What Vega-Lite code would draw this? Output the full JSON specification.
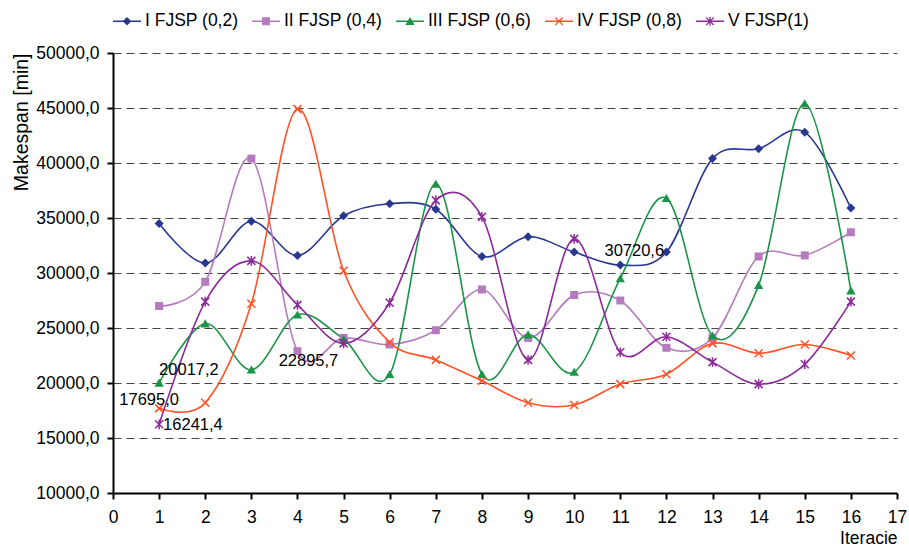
{
  "$schema": "https://vega.github.io/schema/vega-lite/v6.json",
  "width": 784,
  "height": 440,
  "autosize": {"type": "none"},
  "padding": {"left": 113, "top": 53, "right": 12, "bottom": 56},
  "background": "white",
  "config": {
    "font": "Liberation Sans",
    "locale": {"number": {"decimal": ",", "thousands": ".", "grouping": [3], "currency": ["", " Kč"]}},
    "view": {"stroke": null}
  },
  "data": {
    "values": [
      {"iter": 1, "series": "I FJSP (0,2)", "value": 34500},
      {"iter": 2, "series": "I FJSP (0,2)", "value": 30900},
      {"iter": 3, "series": "I FJSP (0,2)", "value": 34700},
      {"iter": 4, "series": "I FJSP (0,2)", "value": 31600},
      {"iter": 5, "series": "I FJSP (0,2)", "value": 35200},
      {"iter": 6, "series": "I FJSP (0,2)", "value": 36300},
      {"iter": 7, "series": "I FJSP (0,2)", "value": 35800},
      {"iter": 8, "series": "I FJSP (0,2)", "value": 31500},
      {"iter": 9, "series": "I FJSP (0,2)", "value": 33300},
      {"iter": 10, "series": "I FJSP (0,2)", "value": 31900},
      {"iter": 11, "series": "I FJSP (0,2)", "value": 30720.6},
      {"iter": 12, "series": "I FJSP (0,2)", "value": 31900},
      {"iter": 13, "series": "I FJSP (0,2)", "value": 40400},
      {"iter": 14, "series": "I FJSP (0,2)", "value": 41300},
      {"iter": 15, "series": "I FJSP (0,2)", "value": 42800},
      {"iter": 16, "series": "I FJSP (0,2)", "value": 35900},
      {"iter": 1, "series": "II FJSP (0,4)", "value": 27000},
      {"iter": 2, "series": "II FJSP (0,4)", "value": 29200},
      {"iter": 3, "series": "II FJSP (0,4)", "value": 40400},
      {"iter": 4, "series": "II FJSP (0,4)", "value": 22895.7},
      {"iter": 5, "series": "II FJSP (0,4)", "value": 24100},
      {"iter": 6, "series": "II FJSP (0,4)", "value": 23500},
      {"iter": 7, "series": "II FJSP (0,4)", "value": 24800},
      {"iter": 8, "series": "II FJSP (0,4)", "value": 28500},
      {"iter": 9, "series": "II FJSP (0,4)", "value": 24100},
      {"iter": 10, "series": "II FJSP (0,4)", "value": 28000},
      {"iter": 11, "series": "II FJSP (0,4)", "value": 27500},
      {"iter": 12, "series": "II FJSP (0,4)", "value": 23200},
      {"iter": 13, "series": "II FJSP (0,4)", "value": 24100},
      {"iter": 14, "series": "II FJSP (0,4)", "value": 31500},
      {"iter": 15, "series": "II FJSP (0,4)", "value": 31600},
      {"iter": 16, "series": "II FJSP (0,4)", "value": 33700},
      {"iter": 1, "series": "III FJSP (0,6)", "value": 20017.2},
      {"iter": 2, "series": "III FJSP (0,6)", "value": 25400},
      {"iter": 3, "series": "III FJSP (0,6)", "value": 21200},
      {"iter": 4, "series": "III FJSP (0,6)", "value": 26200},
      {"iter": 5, "series": "III FJSP (0,6)", "value": 24000},
      {"iter": 6, "series": "III FJSP (0,6)", "value": 20800},
      {"iter": 7, "series": "III FJSP (0,6)", "value": 38100},
      {"iter": 8, "series": "III FJSP (0,6)", "value": 20800},
      {"iter": 9, "series": "III FJSP (0,6)", "value": 24400},
      {"iter": 10, "series": "III FJSP (0,6)", "value": 21000},
      {"iter": 11, "series": "III FJSP (0,6)", "value": 29500},
      {"iter": 12, "series": "III FJSP (0,6)", "value": 36800},
      {"iter": 13, "series": "III FJSP (0,6)", "value": 24300},
      {"iter": 14, "series": "III FJSP (0,6)", "value": 28900},
      {"iter": 15, "series": "III FJSP (0,6)", "value": 45400},
      {"iter": 16, "series": "III FJSP (0,6)", "value": 28400},
      {"iter": 1, "series": "IV FJSP (0,8)", "value": 17695.0},
      {"iter": 2, "series": "IV FJSP (0,8)", "value": 18200},
      {"iter": 3, "series": "IV FJSP (0,8)", "value": 27200},
      {"iter": 4, "series": "IV FJSP (0,8)", "value": 44900},
      {"iter": 5, "series": "IV FJSP (0,8)", "value": 30200},
      {"iter": 6, "series": "IV FJSP (0,8)", "value": 23700},
      {"iter": 7, "series": "IV FJSP (0,8)", "value": 22100},
      {"iter": 8, "series": "IV FJSP (0,8)", "value": 20200},
      {"iter": 9, "series": "IV FJSP (0,8)", "value": 18200},
      {"iter": 10, "series": "IV FJSP (0,8)", "value": 18000},
      {"iter": 11, "series": "IV FJSP (0,8)", "value": 19900},
      {"iter": 12, "series": "IV FJSP (0,8)", "value": 20800},
      {"iter": 13, "series": "IV FJSP (0,8)", "value": 23600},
      {"iter": 14, "series": "IV FJSP (0,8)", "value": 22700},
      {"iter": 15, "series": "IV FJSP (0,8)", "value": 23500},
      {"iter": 16, "series": "IV FJSP (0,8)", "value": 22500},
      {"iter": 1, "series": "V FJSP(1)", "value": 16241.4},
      {"iter": 2, "series": "V FJSP(1)", "value": 27400},
      {"iter": 3, "series": "V FJSP(1)", "value": 31100},
      {"iter": 4, "series": "V FJSP(1)", "value": 27100},
      {"iter": 5, "series": "V FJSP(1)", "value": 23600},
      {"iter": 6, "series": "V FJSP(1)", "value": 27300},
      {"iter": 7, "series": "V FJSP(1)", "value": 36600},
      {"iter": 8, "series": "V FJSP(1)", "value": 35100},
      {"iter": 9, "series": "V FJSP(1)", "value": 22100},
      {"iter": 10, "series": "V FJSP(1)", "value": 33100},
      {"iter": 11, "series": "V FJSP(1)", "value": 22800},
      {"iter": 12, "series": "V FJSP(1)", "value": 24200},
      {"iter": 13, "series": "V FJSP(1)", "value": 21900},
      {"iter": 14, "series": "V FJSP(1)", "value": 19900},
      {"iter": 15, "series": "V FJSP(1)", "value": 21700},
      {"iter": 16, "series": "V FJSP(1)", "value": 27400}
    ]
  },
  "encoding": {
    "x": {
      "field": "iter",
      "type": "quantitative",
      "scale": {"domain": [0, 17], "nice": false, "zero": false},
      "axis": {
        "title": "Iteracie",
        "values": [0, 1, 2, 3, 4, 5, 6, 7, 8, 9, 10, 11, 12, 13, 14, 15, 16, 17],
        "format": "d",
        "grid": false,
        "domainColor": "black",
        "domainWidth": 2,
        "tickColor": "black",
        "tickWidth": 2,
        "tickSize": 6,
        "labelFontSize": 17.5,
        "labelColor": "black",
        "labelPadding": 9,
        "labelFlush": false,
        "labelOverlap": false,
        "titleAnchor": "end",
        "titleFontSize": 17.5,
        "titleFontWeight": "normal",
        "titleColor": "black",
        "titlePadding": 4
      }
    },
    "y": {
      "field": "value",
      "type": "quantitative",
      "scale": {"domain": [10000, 50000], "nice": false, "zero": false},
      "axis": {
        "title": "Makespan [min]",
        "values": [10000, 15000, 20000, 25000, 30000, 35000, 40000, 45000, 50000],
        "format": ".1f",
        "grid": true,
        "gridDash": [8, 5],
        "gridColor": "#444444",
        "gridWidth": 1.2,
        "domainColor": "black",
        "domainWidth": 2,
        "tickColor": "black",
        "tickWidth": 2,
        "tickSize": 6,
        "labelFontSize": 17.5,
        "labelColor": "black",
        "labelPadding": 8,
        "labelFlush": false,
        "titleAnchor": "end",
        "titleFontSize": 19.5,
        "titleFontWeight": "normal",
        "titleColor": "black",
        "titlePadding": 4
      }
    }
  },
  "layer": [
    {
      "mark": {"type": "line", "interpolate": "cardinal", "strokeWidth": 1.6},
      "encoding": {
        "color": {
          "field": "series",
          "type": "nominal",
          "scale": {
            "domain": ["I FJSP (0,2)", "II FJSP (0,4)", "III FJSP (0,6)", "IV FJSP (0,8)", "V FJSP(1)"],
            "range": ["#283891", "#B57BBE", "#1B9448", "#FF5126", "#8C2A9A"]
          },
          "legend": null
        }
      }
    },
    {
      "transform": [{"filter": "datum.series === 'I FJSP (0,2)'"}],
      "mark": {"type": "point", "shape": "M0,-1L1,0L0,1L-1,0Z", "filled": true, "size": 81, "color": "#283891", "opacity": 1}
    },
    {
      "transform": [{"filter": "datum.series === 'II FJSP (0,4)'"}],
      "mark": {"type": "point", "shape": "M-1,-1H1V1H-1Z", "filled": true, "size": 64, "color": "#B57BBE", "opacity": 1}
    },
    {
      "transform": [{"filter": "datum.series === 'III FJSP (0,6)'"}],
      "mark": {"type": "point", "shape": "M0,-1L1.1,0.9H-1.1Z", "filled": true, "size": 72, "color": "#1B9448", "opacity": 1}
    },
    {
      "transform": [{"filter": "datum.series === 'IV FJSP (0,8)'"}],
      "mark": {"type": "point", "shape": "M-1,-1L1,1M-1,1L1,-1", "filled": false, "size": 64, "color": "#FF5126", "strokeWidth": 1.5, "opacity": 1}
    },
    {
      "transform": [{"filter": "datum.series === 'V FJSP(1)'"}],
      "mark": {"type": "point", "shape": "M-1,-1L1,1M-1,1L1,-1M0,-1.2V1.2", "filled": false, "size": 64, "color": "#8C2A9A", "strokeWidth": 1.5, "opacity": 1}
    },
    {
      "mark": {"type": "point", "filled": true, "opacity": 0},
      "encoding": {
        "color": {
          "field": "series",
          "type": "nominal",
          "scale": {
            "domain": ["I FJSP (0,2)", "II FJSP (0,4)", "III FJSP (0,6)", "IV FJSP (0,8)", "V FJSP(1)"],
            "range": ["#283891", "#B57BBE", "#1B9448", "#FF5126", "#8C2A9A"]
          },
          "legend": {
            "title": null,
            "orient": "top",
            "direction": "horizontal",
            "symbolSize": 784,
            "symbolOpacity": 1,
            "symbolStrokeWidth": 0,
            "labelFontSize": 17.5,
            "labelColor": "black",
            "labelOffset": 4,
            "columnPadding": 13,
            "offset": 23,
            "padding": 0
          }
        },
        "shape": {
          "field": "series",
          "type": "nominal",
          "scale": {
            "domain": ["I FJSP (0,2)", "II FJSP (0,4)", "III FJSP (0,6)", "IV FJSP (0,8)", "V FJSP(1)"],
            "range": [
              "M-1,-0.055H1V0.055H-1Z M0,-0.31L0.31,0L0,0.31L-0.31,0Z",
              "M-1,-0.055H1V0.055H-1Z M-0.28,-0.28H0.28V0.28H-0.28Z",
              "M-1,-0.055H1V0.055H-1Z M0,-0.31L0.33,0.26H-0.33Z",
              "M-1,-0.055H1V0.055H-1Z M-0.235,-0.295L0.295,0.235L0.235,0.295L-0.295,-0.235Z M0.235,-0.295L0.295,-0.235L-0.235,0.295L-0.295,0.235Z",
              "M-1,-0.055H1V0.055H-1Z M-0.235,-0.295L0.295,0.235L0.235,0.295L-0.295,-0.235Z M0.235,-0.295L0.295,-0.235L-0.235,0.295L-0.295,0.235Z M-0.045,-0.33H0.045V0.33H-0.045Z"
            ]
          },
          "legend": {
            "title": null,
            "orient": "top",
            "direction": "horizontal",
            "symbolSize": 784,
            "symbolOpacity": 1,
            "symbolStrokeWidth": 0,
            "labelFontSize": 17.5,
            "labelColor": "black",
            "labelOffset": 4,
            "columnPadding": 13,
            "offset": 23,
            "padding": 0
          }
        }
      }
    },
    {
      "transform": [{"filter": "datum.series === 'III FJSP (0,6)' && datum.iter === 1"}],
      "mark": {"type": "text", "align": "left", "baseline": "middle", "dx": 0, "dy": -13, "fontSize": 16.5, "color": "black"},
      "encoding": {"text": {"field": "value", "type": "quantitative", "format": ".1f"}}
    },
    {
      "transform": [{"filter": "datum.series === 'IV FJSP (0,8)' && datum.iter === 1"}],
      "mark": {"type": "text", "align": "center", "baseline": "middle", "dx": -10, "dy": -8, "fontSize": 16.5, "color": "black"},
      "encoding": {"text": {"field": "value", "type": "quantitative", "format": ".1f"}}
    },
    {
      "transform": [{"filter": "datum.series === 'V FJSP(1)' && datum.iter === 1"}],
      "mark": {"type": "text", "align": "left", "baseline": "middle", "dx": 4, "dy": 1, "fontSize": 16.5, "color": "black"},
      "encoding": {"text": {"field": "value", "type": "quantitative", "format": ".1f"}}
    },
    {
      "transform": [{"filter": "datum.series === 'II FJSP (0,4)' && datum.iter === 4"}],
      "mark": {"type": "text", "align": "center", "baseline": "middle", "dx": 11, "dy": 10, "fontSize": 16.5, "color": "black"},
      "encoding": {"text": {"field": "value", "type": "quantitative", "format": ".1f"}}
    },
    {
      "transform": [{"filter": "datum.series === 'I FJSP (0,2)' && datum.iter === 11"}],
      "mark": {"type": "text", "align": "center", "baseline": "middle", "dx": 14, "dy": -14, "fontSize": 16.5, "color": "black"},
      "encoding": {"text": {"field": "value", "type": "quantitative", "format": ".1f"}}
    }
  ],
  "resolve": {"scale": {"color": "independent", "shape": "independent"}}
}
